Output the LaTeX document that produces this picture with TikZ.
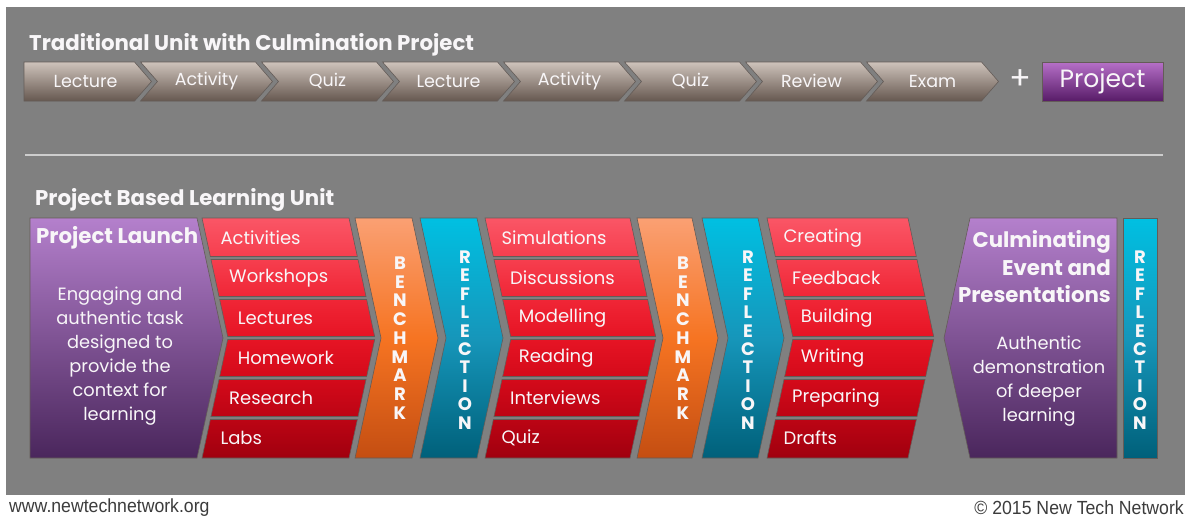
\documentclass[tikz,border=0pt]{standalone}
\usepackage{fontspec}
\setmainfont{Poppins}
\newfontfamily\footfont[FakeStretch=0.93]{Liberation Sans}
\usetikzlibrary{shadows}
\definecolor{panel}{RGB}{128,128,128}
\definecolor{chT}{RGB}{206,195,187}
\definecolor{chB}{RGB}{102,88,80}
\definecolor{prT}{RGB}{182,112,200}
\definecolor{prB}{RGB}{88,28,104}
\definecolor{puT}{RGB}{180,128,204}
\definecolor{puB}{RGB}{74,38,92}
\definecolor{orT}{RGB}{250,160,115}
\definecolor{orM}{RGB}{246,116,34}
\definecolor{orB}{RGB}{196,78,18}
\definecolor{cyT}{RGB}{0,192,226}
\definecolor{cyM}{RGB}{22,150,186}
\definecolor{cyB}{RGB}{0,96,122}
\definecolor{rc0}{RGB}{250,86,102}
\definecolor{rc1}{RGB}{246,62,78}
\definecolor{rc2}{RGB}{240,38,54}
\definecolor{rc3}{RGB}{230,20,36}
\definecolor{rc4}{RGB}{212,10,26}
\definecolor{rc5}{RGB}{188,4,20}
\definecolor{rc6}{RGB}{160,0,14}
\definecolor{edge}{RGB}{100,92,88}
\definecolor{sep}{RGB}{205,205,205}
\definecolor{txt}{RGB}{248,246,248}
\definecolor{foot}{RGB}{60,60,60}
\pgfdeclareverticalshading{orsh}{100bp}{color(0bp)=(orB); color(25bp)=(orB); color(50bp)=(orM); color(75bp)=(orT); color(100bp)=(orT)}
\pgfdeclareverticalshading{cysh}{100bp}{color(0bp)=(cyB); color(25bp)=(cyB); color(50bp)=(cyM); color(75bp)=(cyT); color(100bp)=(cyT)}
\tikzset{
  shp/.style={draw=edge, line width=0.6pt, drop shadow={opacity=0.3, shadow xshift=1.5pt, shadow yshift=-2pt}},
  topchev/.style={shp, top color=chT, bottom color=chB},
  toplbl/.style={text=txt, font=\fontsize{17.5}{17.5}\selectfont, inner sep=0pt},
  ttl/.style={text=txt, font=\fontsize{21.3}{22}\selectfont\bfseries, inner sep=0pt},
  rowlbl/.style={text=txt, font=\fontsize{18}{18}\selectfont, inner sep=0pt},
  body/.style={text=txt, font=\fontsize{17.8}{24}\selectfont, align=center, inner sep=0pt},
  purp/.style={shp, top color=puT, bottom color=puB},
  orng/.style={shp, shading=orsh},
  cyan/.style={shp, shading=cysh},
  vlet/.style={text=txt, align=center, font=\fontsize{18}{18.75}\selectfont\bfseries, inner sep=0pt},
  vletr/.style={text=txt, align=center, font=\fontsize{18}{18.4}\selectfont\bfseries, inner sep=0pt},
  projbox/.style={shp, top color=prT, bottom color=prB, minimum width=121pt, minimum height=39pt, inner sep=0pt, text=txt, font=\fontsize{25}{25}\selectfont},
  footer/.style={text=foot, font=\footfont\fontsize{19}{19}\selectfont, inner sep=0pt}
}
\newcommand\redcol[5]{%
  \foreach \lab [count=\k from 0] in {#5}{
    \pgfmathsetmacro\yt{218+40*\k+(\k>0 ? 1.5 : 0)}
    \pgfmathsetmacro\yb{258+40*\k-(\k<5 ? 1.5 : 0)}
    \pgfmathsetmacro\dt{26*(1-abs(\yt-338)/120)}
    \pgfmathsetmacro\db{26*(1-abs(\yb-338)/120)}
    \pgfmathsetmacro\yc{238+40*\k}
    \pgfmathsetmacro\dc{26*(1-abs(\yc-338)/120)}
    \pgfmathtruncatemacro\kk{\k+1}
    \path[shp, top color=rc\k, bottom color=rc\kk] ({#1+\dt},\yt) -- ({#2+\dt},\yt) -- ({#2+\db},\yb) -- ({#1+\db},\yb) -- cycle;
    \node[rowlbl, anchor=west] (#3\k) at ({#1+\dc+#4},\yc) {\lab};
  }}
\newcommand\chevshape[3]{%
  \path[#3] (#1,218) -- (#2,218) -- ({#2+26},338) -- (#2,458) -- (#1,458) -- ({#1+26},338) -- cycle;}
\begin{document}
\begin{tikzpicture}[x=1pt,y=-1pt]
\useasboundingbox (0,0) rectangle (1185,517);
\fill[white] (0,0) rectangle (1185,517);
\fill[panel] (6,7) rectangle (1185,495);
% top row
\node[ttl, anchor=west] (title1) at (29,45) {Traditional Unit with Culmination Project};
\foreach \t [count=\i from 0] in {Lecture,Activity,Quiz,Lecture,Activity,Quiz,Review,Exam}{
  \pgfmathsetmacro\xl{19.5+121*\i}
  \pgfmathsetmacro\xn{\i==0 ? 24 : \xl+17}
  \pgfmathsetmacro\xa{\i==0 ? 24 : \xl}
  \path[topchev] (\xa,62) -- ({\xl+115},62) -- ({\xl+132},81.5) -- ({\xl+115},101) -- (\xa,101) -- (\xn,81.5) -- cycle;
  \node[toplbl] (tc\i) at ({\xl+66},81) {\t};
}
\node[text=txt, font=\fontsize{32}{32}\selectfont, inner sep=0pt] (plus) at (1020,80) {+};
\node[projbox] (proj) at (1102.5,81.5) {Project};
% separator
\draw[sep, line width=2.5pt] (25,155) -- (1163,155);
% bottom
\node[ttl, anchor=west] (title2) at (35,200) {Project Based Learning Unit};
\path[purp] (30,218) -- (197,218) -- (223,338) -- (197,458) -- (30,458) -- cycle;
\node[ttl, anchor=west] (plt) at (36,238) {Project Launch};
\node[body] (pld) at (120,356) {Engaging and\\authentic task\\designed to\\provide the\\context for\\learning};
\redcol{202}{349}{ca}{14}{Activities,Workshops,Lectures,Homework,Research,Labs}
\chevshape{355}{412}{orng}
\node[vlet] (bm1) at (400,338) {B\\E\\N\\C\\H\\M\\A\\R\\K};
\chevshape{420}{477}{cyan}
\node[vletr] (rf1) at (465,340) {R\\E\\F\\L\\E\\C\\T\\I\\O\\N};
\redcol{485}{630}{cb}{12}{Simulations,Discussions,Modelling,Reading,Interviews,Quiz}
\chevshape{637}{692}{orng}
\node[vlet] (bm2) at (683,338) {B\\E\\N\\C\\H\\M\\A\\R\\K};
\chevshape{702}{758}{cyan}
\node[vletr] (rf2) at (748,340) {R\\E\\F\\L\\E\\C\\T\\I\\O\\N};
\redcol{767}{908}{cc}{12}{Creating,Feedback,Building,Writing,Preparing,Drafts}
\path[purp] (970,218) -- (1117,218) -- (1117,458) -- (970,458) -- (944,338) -- cycle;
\node[ttl, align=right, anchor=east, font=\fontsize{21.3}{27.5}\selectfont\bfseries] (cul) at (1111,267) {Culminating\\Event and\\Presentations};
\node[body] (culd) at (1039,381) {Authentic\\demonstration\\of deeper\\learning};
\path[cyan] (1123,218) rectangle (1157,458);
\node[vletr] (rf3) at (1140,340) {R\\E\\F\\L\\E\\C\\T\\I\\O\\N};
% footer
\node[footer, anchor=west] (url) at (9,508) {www.newtechnetwork.org};
\node[footer, anchor=east] (copy) at (1184,508) {© 2015 New Tech Network};
\end{tikzpicture}
\end{document}
